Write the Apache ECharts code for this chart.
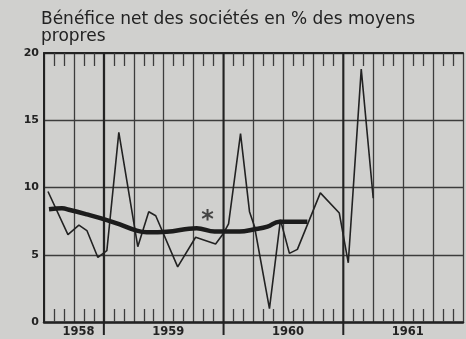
<!DOCTYPE html>
<html>
<head>
<meta charset="utf-8">
<script src="https://cdn.jsdelivr.net/npm/echarts@6/dist/echarts.min.js"></script>
<style>
  html, body { margin: 0; padding: 0; background: #d0d0ce; }
  #chart { width: 466px; height: 339px; }
</style>
</head>
<body>
<div id="chart"></div>
<script>
// Time axis: months counted from 1 July 1958 (0) to 31 December 1961 (42).
const rawMonths = [0.4, 2.4, 3.5, 4.3, 5.4, 6.3, 7.5, 9.4, 10.5, 11.2, 13.4, 15.2, 17.2, 18.0, 18.5,
                   19.7, 20.6, 21.1, 22.6, 23.7, 24.6, 25.4, 27.7, 29.6, 30.5, 31.8, 33.0];
const rawValues = [9.7, 6.5, 7.2, 6.8, 4.8, 5.3, 14.1, 5.6, 8.2, 7.9, 4.1, 6.3, 5.8, 6.6, 7.3,
                   14.0, 8.2, 7.1, 1.0, 7.6, 5.1, 5.4, 9.6, 8.1, 4.4, 18.8, 9.2];

// Smoothed trend (moving average)
const trendMonths = [0.5, 1.8, 2.6, 4.3, 6.3, 7.6, 9.3, 10.3, 12.3, 15.3, 17.1, 19.6, 21.1, 22.4, 23.6, 26.4];
const trendValues = [8.38, 8.45, 8.33, 8.0, 7.58, 7.26, 6.79, 6.67, 6.71, 6.97, 6.72, 6.72, 6.89, 7.09, 7.46, 7.46];

const yearLabels = { 3: '1958', 12: '1959', 24: '1960', 36: '1961' };
const yearStarts = [6, 18, 30];
const starPoint = [16.3, 7.85];

const ink = '#222222';
const gridInk = '#3c3c3c';
const font = 'DejaVu Sans';

const zip = (xs, ys) => xs.map((x, i) => [x, ys[i]]);

const chart = echarts.init(document.getElementById('chart'), null, { renderer: 'canvas' });

chart.setOption({
  animation: false,
  backgroundColor: '#d0d0ce',
  title: {
    text: 'Bénéfice net des sociétés en % des moyens\npropres',
    left: 41,
    top: 11,
    padding: 0,
    textStyle: { fontFamily: font, fontSize: 17, fontWeight: 'normal', color: ink, lineHeight: 17 }
  },
  grid: { left: 44, right: 1, top: 53, bottom: 17, containLabel: false },
  xAxis: [
    {
      type: 'value', min: 0, max: 42, interval: 3, position: 'bottom',
      axisLine: { show: true, lineStyle: { color: ink, width: 2.5 } },
      axisTick: { show: false, inside: true },
      minorTick: { show: true, splitNumber: 3, length: 13, lineStyle: { color: gridInk, width: 1.3 } },
      splitLine: { show: true, lineStyle: { color: gridInk, width: 1.3 } },
      axisLabel: {
        margin: 4, fontFamily: font, fontSize: 11.5, fontWeight: 'bold', color: ink,
        padding: [0, 0, 0, 9],
        formatter: v => yearLabels[v] || ''
      }
    },
    {
      type: 'value', min: 0, max: 42, interval: 3, position: 'top',
      axisLine: { show: true, lineStyle: { color: ink, width: 2 } },
      axisTick: { show: false, inside: true },
      minorTick: { show: true, splitNumber: 3, length: 13, lineStyle: { color: gridInk, width: 1.3 } },
      splitLine: { show: false },
      axisLabel: { show: false }
    }
  ],
  yAxis: {
    type: 'value', min: 0, max: 20, interval: 5,
    axisLine: { show: true, lineStyle: { color: ink, width: 2 } },
    axisTick: { show: false },
    splitLine: { show: true, lineStyle: { color: gridInk, width: 1.3 } },
    axisLabel: { margin: 5, fontFamily: font, fontSize: 11, fontWeight: 'bold', color: ink }
  },
  series: [
    {
      // year boundaries: heavier lines that run below the time axis
      type: 'custom',
      data: yearStarts.map(m => [m, 0]),
      encode: { x: 0, y: 1 },
      silent: true,
      z: 1,
      renderItem: (params, api) => {
        const x = api.value(0);
        const top = api.coord([x, 20]);
        const bottom = api.coord([x, 0]);
        return {
          type: 'line',
          shape: { x1: top[0], y1: top[1], x2: bottom[0], y2: bottom[1] + 13 },
          style: { stroke: ink, lineWidth: 2 }
        };
      }
    },
    {
      name: 'Bénéfice net',
      type: 'line',
      data: zip(rawMonths, rawValues),
      showSymbol: false,
      z: 3,
      lineStyle: { color: ink, width: 1.6 }
    },
    {
      name: 'Tendance',
      type: 'line',
      data: zip(trendMonths, trendValues),
      showSymbol: false,
      smooth: 0.4,
      z: 4,
      lineStyle: { color: '#1c1c1c', width: 4.5, cap: 'butt' }
    },
    {
      type: 'scatter',
      data: [starPoint],
      symbolSize: 0,
      silent: true,
      z: 5,
      label: {
        show: true, position: 'inside', formatter: '*',
        fontFamily: font, fontSize: 24, fontWeight: 'bold', color: ink, offset: [1, 4]
      }
    }
  ]
});
</script>
</body>
</html>
